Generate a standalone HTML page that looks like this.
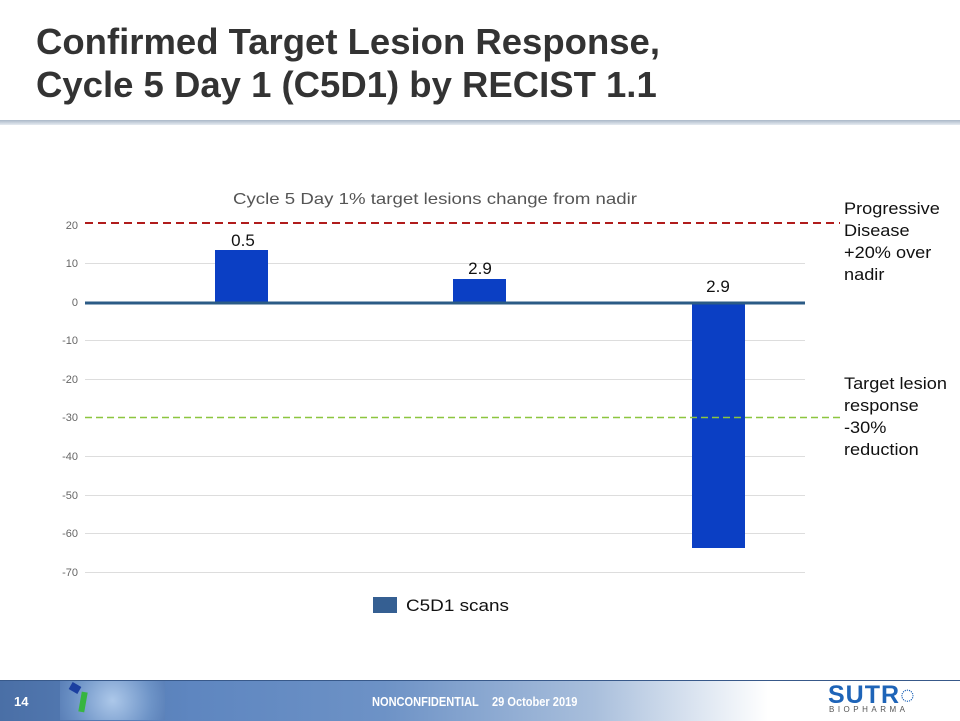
<!DOCTYPE html>
<html><head><style>
body{margin:0;width:960px;height:720px;position:relative;background:#fff;font-family:"Liberation Sans",sans-serif;overflow:hidden}
.title{position:absolute;left:36px;top:20px;font-size:36.5px;font-weight:bold;color:#333;line-height:43px}
.hdr{position:absolute;left:0;top:120px;width:960px;height:5px;background:linear-gradient(#aab8c8,#e6ebf1)}
.foot{position:absolute;left:0;top:680px;width:960px;height:40px;background:linear-gradient(90deg,#4a6fa6 0%,#5e86c0 20%,#6d92c6 40%,#a9bfdc 62%,#fff 80%);border-top:1px solid #38598a}
.cells{position:absolute;left:60px;top:681px;width:105px;height:39px;background:radial-gradient(circle at 50% 50%,#b6d0ef,#6f95c8 70%,#5b80b8);opacity:.9}
.ft{position:absolute;color:#fff;font-size:13px;font-weight:bold}
.side{position:absolute;left:844px;font-size:16.5px;line-height:22px;color:#111;transform:scaleX(1.1);transform-origin:left top}
</style></head><body>
<div class="title">Confirmed Target Lesion Response,<br>Cycle 5 Day 1 (C5D1) by RECIST 1.1</div>
<div class="hdr"></div>
<svg width="960" height="720" style="position:absolute;left:0;top:0">
<text x="233" y="204" font-size="16" fill="#555" textLength="404" lengthAdjust="spacingAndGlyphs" font-family="Liberation Sans">Cycle 5 Day 1% target lesions change from nadir</text>
<g stroke="#ddd" stroke-width="1">
<line x1="85" y1="263.5" x2="805" y2="263.5"/><line x1="85" y1="340.5" x2="805" y2="340.5"/><line x1="85" y1="379.5" x2="805" y2="379.5"/><line x1="85" y1="456.5" x2="805" y2="456.5"/><line x1="85" y1="495.5" x2="805" y2="495.5"/><line x1="85" y1="533.5" x2="805" y2="533.5"/><line x1="85" y1="572.5" x2="805" y2="572.5"/>
</g>
<g font-size="11" fill="#666" text-anchor="end" font-family="Liberation Sans">
<text x="78" y="229">20</text><text x="78" y="267">10</text><text x="78" y="306">0</text><text x="78" y="344">-10</text><text x="78" y="383">-20</text><text x="78" y="421">-30</text><text x="78" y="460">-40</text><text x="78" y="499">-50</text><text x="78" y="537">-60</text><text x="78" y="576">-70</text>
</g>
<rect x="215" y="250" width="53" height="52" fill="#0b3fc4"/>
<rect x="453" y="279" width="53" height="23" fill="#0b3fc4"/>
<rect x="692" y="302" width="53" height="246" fill="#0b3fc4"/>
<line x1="85" y1="303" x2="805" y2="303" stroke="#2b5b86" stroke-width="3"/>
<line x1="85" y1="223" x2="840" y2="223" stroke="#b01c1c" stroke-width="2" stroke-dasharray="8,5"/>
<line x1="85" y1="417.5" x2="840" y2="417.5" stroke="#8cc63f" stroke-width="1.5" stroke-dasharray="7,4"/>
<g font-size="17" fill="#111" text-anchor="middle" font-family="Liberation Sans">
<text x="243" y="246">0.5</text><text x="480" y="274">2.9</text><text x="718" y="292">2.9</text>
</g>
<rect x="373" y="597" width="24" height="16" fill="#355f92"/>
<text x="406" y="611" font-size="17" fill="#111" textLength="103" lengthAdjust="spacingAndGlyphs" font-family="Liberation Sans">C5D1 scans</text>
</svg>
<div class="side" style="top:198px">Progressive<br>Disease<br>+20% over<br>nadir</div>
<div class="side" style="top:373px">Target lesion<br>response<br>-30%<br>reduction</div>
<div class="foot"></div>
<div class="cells"></div>
<div class="ft" style="left:14px;top:694px">14</div>
<div style="position:absolute;left:70px;top:684px;width:10px;height:8px;background:#1b3fa0;transform:rotate(30deg)"></div>
<div style="position:absolute;left:80px;top:692px;width:6px;height:20px;background:#37b540;transform:rotate(10deg)"></div>
<div class="ft" style="left:372px;top:694px;transform:scaleX(0.85);transform-origin:left">NONCONFIDENTIAL</div>
<div class="ft" style="left:492px;top:694px;transform:scaleX(0.85);transform-origin:left">29 October 2019</div>
<div style="position:absolute;left:828px;top:681px;font-size:25px;font-weight:bold;color:#1e64b8;letter-spacing:1px">SUTR◌</div>
<div style="position:absolute;left:829px;top:705px;font-size:8px;color:#555;letter-spacing:3.5px">BIOPHARMA</div>
</body></html>
